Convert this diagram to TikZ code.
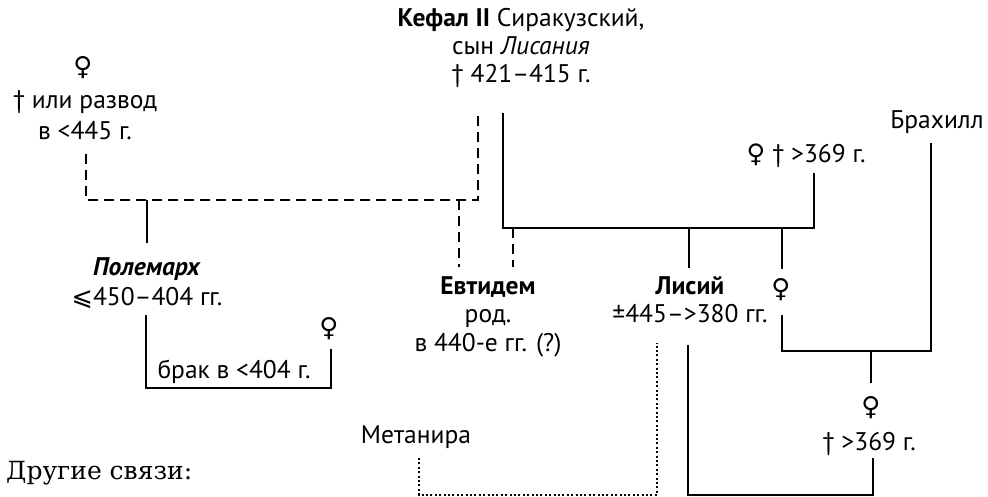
\documentclass[tikz,border=0pt]{standalone}
\usepackage{fontspec}
\setmainfont{PT Sans}
\newfontfamily\symf{DejaVu Sans}
\newfontfamily\serf{DejaVu Serif}
\begin{document}
\begin{tikzpicture}[x=1pt,y=-1pt,
  lbl/.style={inner sep=0pt, anchor=base, align=center, font=\fontsize{25.5}{28}\selectfont},
  fem/.style={inner sep=0pt, font=\symf\fontsize{26}{26}\selectfont},
  solidline/.style={line width=1.4pt},
  dashline/.style={line width=1.4pt, dash pattern=on 10pt off 6pt},
  dotline/.style={line width=2.2pt, dash pattern=on 2pt off 2.4pt}]
\useasboundingbox (0,0) rectangle (988,497);

% text nodes (anchor = baseline of last line)
\node[lbl] (kefal) at (521,83) {\textbf{Кефал II} Сиракузский,\\сын \textit{Лисания}\\† 421–415 г.};
\node[fem] (w1sym) at (83,68) {♀};
\node[lbl, font=\fontsize{25.5}{31}\selectfont] (w1) at (85,140) {† или развод\\в <445 г.};
\node[lbl, font=\fontsize{25.5}{29}\selectfont] (polem) at (147,305) {\textbf{\textit{Полемарх}}\\{\symf ⩽}450–404 гг.};
\node[fem] (pwsym) at (329,329) {♀};
\node[lbl] (brak) at (234,378) {брак в <404 г.};
\node[lbl, font=\fontsize{25.5}{28.5}\selectfont] (evt) at (488,351) {\textbf{Евтидем}\\род.\\в 440-е гг. (?)};
\node[lbl, font=\fontsize{25.5}{28}\selectfont] (lys) at (690,322) {\textbf{Лисий}\\±445–>380 гг.};
\node[lbl] (w2) at (806,163) {{\symf ♀} † >369 г.};
\node[lbl] (brach) at (937,129) {Брахилл};
\node[fem] (dau) at (781,290) {♀};
\node[fem] (gdsym) at (871,408) {♀};
\node[lbl] (gd) at (869,450) {† >369 г.};
\node[lbl] (meta) at (416,443) {Метанира};
\node[inner sep=0pt, anchor=base west, font=\serf\fontsize{25}{25}\selectfont] (other) at (6,479) {Другие связи:};

% coordinates
\coordinate (w1d) at (86,154);
\coordinate (m1r) at (478,200);
\coordinate (k1) at (478,113);
\coordinate (m1pol) at (147,200);
\coordinate (polt) at (147,243);
\coordinate (m1evt) at (459,200);
\coordinate (evt1) at (459,267);
\coordinate (k2) at (503,113);
\coordinate (m2r) at (814,228);
\coordinate (w2d) at (814,173);
\coordinate (m2evt) at (513,228);
\coordinate (evt2) at (513,267);
\coordinate (m2lys) at (689,228);
\coordinate (lyst) at (689,268);
\coordinate (m2dau) at (782,228);
\coordinate (daut) at (782,269);
\coordinate (daub) at (782,315);
\coordinate (m3r) at (931,351);
\coordinate (brachb) at (931,143);
\coordinate (m3gd) at (871,351);
\coordinate (gdt) at (871,383);
\coordinate (gdb) at (873,458);
\coordinate (m4l) at (688,495);
\coordinate (lysb) at (688,345);
\coordinate (metab) at (419,458);
\coordinate (m5r) at (657,495);
\coordinate (lysb2) at (657,343);
\coordinate (polb) at (146,315);
\coordinate (m6r) at (331,388);
\coordinate (pwb) at (331,349);

% first marriage (dashed)
\draw[dashline] (w1d) |- (m1r) -- (k1);
\draw[solidline] (m1pol) -- (polt);
\draw[dashline] (m1evt) -- (evt1);
% second marriage
\draw[solidline] (k2) |- (m2r) -- (w2d);
\draw[dashline] (m2evt) -- (evt2);
\draw[solidline] (m2lys) -- (lyst);
\draw[solidline] (m2dau) -- (daut);
% daughter + Brachyll
\draw[solidline] (daub) |- (m3r) -- (brachb);
\draw[solidline] (m3gd) -- (gdt);
% Lysias + granddaughter
\draw[solidline] (gdb) |- (m4l) -- (lysb);
% Metanira (dotted)
\draw[dotline] (metab) |- (m5r) -- (lysb2);
% Polemarchus marriage
\draw[solidline] (polb) |- (m6r) -- (pwb);
\end{tikzpicture}
\end{document}
